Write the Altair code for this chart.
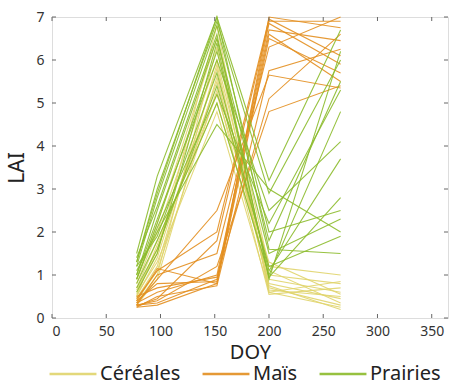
import altair as alt
import pandas as pd

doy = [78, 97, 152, 200, 266]

cereales = [
    [0.35, 1.0, 6.3, 0.6, 0.25],
    [0.45, 1.2, 5.9, 0.7, 0.30],
    [0.50, 1.4, 5.8, 0.8, 0.45],
    [0.60, 1.6, 5.5, 0.9, 0.60],
    [0.40, 1.1, 5.3, 0.55, 0.70],
    [0.70, 1.8, 5.0, 1.0, 0.80],
    [0.80, 2.0, 6.0, 1.1, 0.35],
    [0.55, 1.3, 4.8, 0.65, 0.50],
    [0.90, 2.2, 6.5, 1.2, 1.0],
    [0.30, 0.9, 5.6, 0.75, 0.20],
    [0.65, 1.5, 6.8, 0.6, 0.85],
    [0.50, 1.7, 5.2, 1.3, 0.55],
]

mais = [
    [0.25, 0.30, 0.80, 7.0, 6.75],
    [0.30, 0.35, 0.90, 6.85, 5.9],
    [0.35, 0.60, 1.00, 6.7, 6.45],
    [0.40, 0.80, 0.85, 6.6, 5.5],
    [0.30, 1.00, 1.50, 6.3, 7.0],
    [0.45, 1.10, 2.00, 6.95, 6.1],
    [0.25, 0.50, 0.75, 5.75, 6.25],
    [0.35, 0.90, 2.50, 5.65, 5.35],
    [0.50, 0.70, 0.95, 5.1, 6.6],
    [0.30, 0.40, 1.20, 4.8, 5.4],
    [0.40, 1.15, 0.80, 6.5, 5.7],
    [0.28, 0.45, 1.80, 6.9, 6.9],
]

prairies = [
    [1.5, 3.3, 7.0, 3.2, 6.7],
    [1.3, 3.0, 6.9, 2.9, 6.0],
    [1.2, 2.8, 6.8, 2.0, 2.5],
    [1.0, 2.5, 6.5, 1.8, 5.5],
    [0.9, 2.2, 6.2, 1.5, 2.3],
    [1.1, 2.0, 4.5, 3.0, 2.0],
    [0.8, 1.8, 5.0, 1.0, 4.8],
    [1.4, 2.6, 6.6, 0.9, 6.2],
    [0.7, 1.6, 5.4, 1.2, 1.9],
    [1.0, 2.3, 6.0, 2.5, 4.1],
    [1.2, 1.9, 5.7, 1.1, 3.7],
    [0.6, 1.5, 6.4, 0.95, 2.8],
    [1.3, 2.9, 7.0, 1.6, 1.5],
    [0.9, 2.1, 5.2, 2.2, 5.3],
]

categories = ["Céréales", "Maïs", "Prairies"]
colors = ["#e0d46c", "#e38f20", "#8cbb2c"]

x_ticks = [0, 50, 100, 150, 200, 250, 300, 350]
y_ticks = [0, 1, 2, 3, 4, 5, 6, 7]

rows = []
for cat, series in zip(categories, [cereales, mais, prairies]):
    for i, vals in enumerate(series):
        for d, v in zip(doy, vals):
            rows.append({"cat": cat, "id": f"{cat}_{i}", "doy": d, "lai": v})
df = pd.DataFrame(rows)

W, H = 396, 301
FONT = "Noto Sans"

xscale = alt.Scale(domain=[0, 365], nice=False, zero=False)
yscale = alt.Scale(domain=[0, 7], nice=False)

lines = alt.Chart(df).mark_line(strokeWidth=1.1, opacity=0.9).encode(
    x=alt.X("doy:Q", scale=xscale,
            axis=alt.Axis(values=x_ticks, title="DOY", grid=False, ticks=False, domain=False,
                          labelFontSize=14, labelColor="#333", labelPadding=6, labelFont=FONT,
                          titleFontSize=20, titleFont=FONT, titleFontWeight="normal",
                          titleColor="#222", titlePadding=4)),
    y=alt.Y("lai:Q", scale=yscale,
            axis=alt.Axis(values=y_ticks, title="LAI", grid=False, ticks=False, domain=False,
                          labelFontSize=14, labelColor="#333", labelPadding=8, labelFont=FONT,
                          titleFontSize=21, titleFont=FONT, titleFontWeight="normal",
                          titleColor="#222", titlePadding=8)),
    color=alt.Color("cat:N", scale=alt.Scale(domain=categories, range=colors),
                    legend=alt.Legend(title=None, orient="none", direction="horizontal",
                                      legendX=-4, legendY=332,
                                      symbolType="stroke", symbolSize=2200,
                                      symbolStrokeWidth=2.5, labelFontSize=20,
                                      labelFont=FONT, labelColor="#222",
                                      columnPadding=16, labelOffset=2)),
    detail="id:N",
    order="doy:Q",
)

tx = pd.DataFrame({"t": x_ticks})
ty = pd.DataFrame({"t": y_ticks})
tick_style = dict(color="#666", strokeWidth=1)

xb = alt.Chart(tx).mark_rule(**tick_style).encode(
    x=alt.X("t:Q", scale=xscale), y=alt.value(H), y2=alt.value(H - 4))
xt = alt.Chart(tx).mark_rule(**tick_style).encode(
    x=alt.X("t:Q", scale=xscale), y=alt.value(0), y2=alt.value(4))
yl = alt.Chart(ty).mark_rule(**tick_style).encode(
    y=alt.Y("t:Q", scale=yscale), x=alt.value(0), x2=alt.value(4))
yr = alt.Chart(ty).mark_rule(**tick_style).encode(
    y=alt.Y("t:Q", scale=yscale), x=alt.value(W), x2=alt.value(W - 4))

chart = alt.layer(lines, xb, xt, yl, yr).properties(
    width=W, height=H,
    autosize=alt.AutoSizeParams(type="none"),
    padding={"left": 52, "top": 17, "right": 6, "bottom": 68},
).configure_view(stroke="#888", strokeWidth=1.2).configure(background="white")

chart.save("out.html", embed_options={"renderer": "svg", "actions": False})
